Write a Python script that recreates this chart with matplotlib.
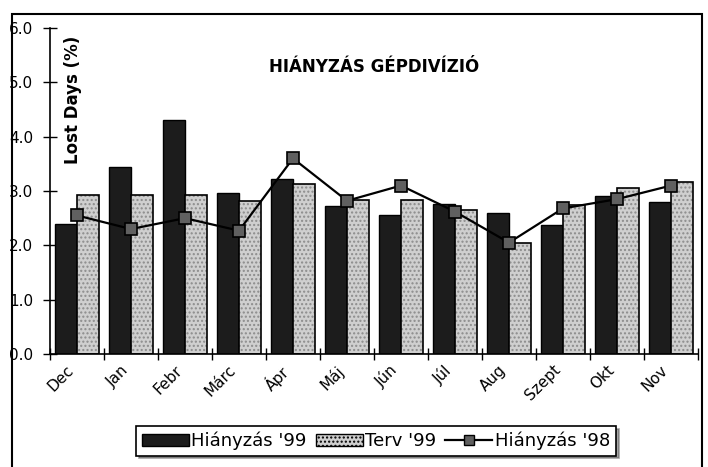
import matplotlib
matplotlib.use("Agg")
import matplotlib.pyplot as plt
import numpy as np
from matplotlib.patches import Rectangle, Patch
from matplotlib.lines import Line2D

months = ["Dec", "Jan", "Febr", "Márc", "Ápr", "Máj", "Jún", "Júl", "Aug", "Szept", "Okt", "Nov"]
hianyzas_99 = [2.40, 3.45, 4.31, 2.97, 3.22, 2.72, 2.56, 2.76, 2.60, 2.38, 2.90, 2.80]
terv_99 = [2.92, 2.92, 2.92, 2.82, 3.13, 2.83, 2.83, 2.65, 2.05, 2.75, 3.05, 3.16]
hianyzas_98 = [2.55, 2.30, 2.50, 2.27, 3.60, 2.82, 3.10, 2.62, 2.05, 2.68, 2.85, 3.10]
yticks = [0.0, 1.0, 2.0, 3.0, 4.0, 5.0, 6.0]

plt.rcParams['font.family'] = ['DejaVu Sans']

fig = plt.figure(figsize=(7.08, 4.67), dpi=100)
ax = fig.add_axes([50/708, 1 - 354/467, 648/708, (354 - 28)/467])

x = np.arange(len(months))
w = 0.41
dark = '#1c1c1c'
light = '#cfcfcf'
ax.bar(x - w/2, hianyzas_99, width=w, color=dark, edgecolor='black', linewidth=1.0, zorder=2)
# stippled light bars: hatch in gray, then black outline on top
ax.bar(x + w/2, terv_99, width=w, color=light, edgecolor='#8c8c8c', linewidth=0,
       hatch='....', zorder=2)
ax.bar(x + w/2, terv_99, width=w, fill=False, edgecolor='black', linewidth=1.2, zorder=2)
ax.plot(x, hianyzas_98, color='black', linewidth=1.6, marker='s', markersize=8,
        markerfacecolor='#606060', markeredgecolor='black', markeredgewidth=1.2, zorder=3)

ax.set_xlim(-0.5, len(months) - 0.5)
ax.set_ylim(0, 6.0)
ax.set_yticks(yticks)
ax.set_yticklabels([f"{v:.1f}" for v in yticks], fontsize=11)
ax.set_xticks(np.arange(len(months) + 1) - 0.5, minor=False)
ax.set_xticklabels([])
ax.set_xticks(x, minor=True)
ax.set_xticklabels(months, minor=True, rotation=45, ha='right', va='top', fontsize=11)
ax.tick_params(axis='x', which='minor', length=0, pad=6)
ax.tick_params(axis='x', which='major', direction='inout', length=8, width=1)
ax.tick_params(axis='y', direction='inout', length=10, width=1, pad=7)

for s in ['top', 'right']:
    ax.spines[s].set_visible(False)
ax.spines['left'].set_linewidth(1.2)
ax.spines['bottom'].set_linewidth(1.2)

ax.text(0.5, 0.88, "HIÁNYZÁS GÉPDIVÍZIÓ", transform=ax.transAxes, ha='center', va='center',
        fontsize=12, fontweight='bold')
ax.text(0.035, 0.78, "Lost Days (%)", transform=ax.transAxes, rotation=90, ha='center',
        va='center', fontsize=12, fontweight='bold')

# legend with drop shadow
handles = [
    Patch(facecolor=dark, edgecolor='black', linewidth=1.0),
    Patch(facecolor=light, edgecolor='black', linewidth=1.0, hatch='....'),
    Line2D([], [], color='black', linewidth=1.6, marker='s', markersize=7,
           markerfacecolor='#606060', markeredgecolor='black'),
]
labels = ["Hiányzás '99", "Terv '99", "Hiányzás '98"]
leg = fig.legend(handles, labels, loc='center', bbox_to_anchor=(376/708, 1 - 441/467), ncol=3,
                 fontsize=13, frameon=True, fancybox=False, shadow=True, handlelength=2.6,
                 handletextpad=0.15, columnspacing=0.5, borderpad=0.3, edgecolor='black')
leg.get_frame().set_linewidth(1.2)

# outer chart frame
fig.patches.append(Rectangle((12/708, -0.05), (702 - 12)/708, 1.05 - 14/467,
                             transform=fig.transFigure, fill=False, edgecolor='black',
                             linewidth=1.5))

fig.savefig("out.png", dpi=100)
